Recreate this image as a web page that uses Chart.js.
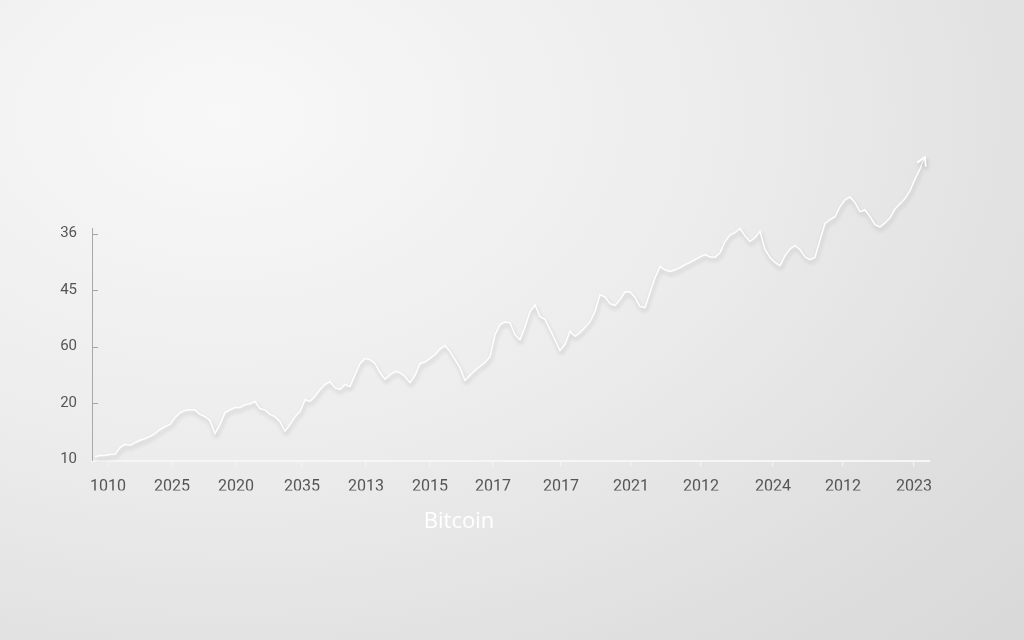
<!DOCTYPE html>
<html>
<head>
<meta charset="utf-8">
<script src="https://cdn.jsdelivr.net/npm/chart.js@4/dist/chart.umd.min.js"></script>
<style>
  html, body { margin: 0; padding: 0; width: 1024px; height: 640px; overflow: hidden; }
  body { background: radial-gradient(ellipse 110% 120% at 22% 18%, #f8f8f8 0%, #ececec 45%, #dedede 80%, #d8d8d8 100%); }
  #wrap { position: absolute; left: 0; top: 0; width: 1024px; height: 640px; }
</style>
</head>
<body>
<div id="wrap"><canvas id="c" width="1024" height="640"></canvas></div>
<script>
// ---- data ----
const chartTitle = 'Bitcoin';
const xLabels = ['1010', '2025', '2020', '2035', '2013', '2015', '2017', '2017', '2021', '2012', '2024', '2012', '2023'];
// where each x label sits, in sample-index units
const xLabelAt = [2.6, 15.4, 28.2, 41.4, 54.2, 67, 79.6, 93.2, 107.2, 121.2, 135.6, 149.6, 163.8];
const yLabels = ['10', '20', '60', '45', '36'];   // bottom to top, one per level step
const yLevels = [0, 1, 2, 3, 4];
// price level per sample (in y-tick steps)
const bitcoinLevel = [
  0.05, 0.07, 0.07, 0.09, 0.09, 0.21, 0.27, 0.25, 0.30, 0.34,
  0.37, 0.41, 0.46, 0.53, 0.58, 0.62, 0.74, 0.83, 0.87, 0.88,
  0.88, 0.80, 0.76, 0.69, 0.46, 0.62, 0.83, 0.88, 0.92, 0.92,
  0.97, 0.99, 1.03, 0.90, 0.88, 0.80, 0.76, 0.67, 0.50, 0.62,
  0.76, 0.85, 1.06, 1.03, 1.12, 1.24, 1.33, 1.38, 1.27, 1.24,
  1.33, 1.29, 1.50, 1.70, 1.79, 1.77, 1.70, 1.54, 1.42, 1.50,
  1.56, 1.54, 1.47, 1.36, 1.49, 1.70, 1.73, 1.79, 1.86, 1.96,
  2.02, 1.91, 1.77, 1.63, 1.40, 1.49, 1.58, 1.65, 1.72, 1.82,
  2.21, 2.39, 2.44, 2.42, 2.21, 2.12, 2.35, 2.62, 2.74, 2.53,
  2.48, 2.30, 2.12, 1.93, 2.04, 2.27, 2.18, 2.25, 2.34, 2.44,
  2.62, 2.92, 2.88, 2.76, 2.73, 2.83, 2.97, 2.97, 2.87, 2.71,
  2.69, 2.96, 3.22, 3.42, 3.36, 3.33, 3.36, 3.40, 3.45, 3.49,
  3.54, 3.59, 3.63, 3.59, 3.58, 3.66, 3.86, 3.98, 4.02, 4.09,
  3.96, 3.86, 3.93, 4.04, 3.72, 3.58, 3.49, 3.43, 3.61, 3.73,
  3.79, 3.72, 3.59, 3.54, 3.58, 3.89, 4.18, 4.25, 4.30, 4.48,
  4.60, 4.65, 4.55, 4.39, 4.42, 4.30, 4.16, 4.12, 4.19, 4.28,
  4.44, 4.53, 4.62, 4.76, 4.97, 5.15, 5.36
];

const lastIndex = bitcoinLevel.length - 1;

const lineShadow = {
  id: 'lineShadow',
  beforeDatasetDraw(chart) {
    const ctx = chart.ctx;
    ctx.save();
    ctx.shadowColor = 'rgba(0,0,0,0.20)';
    ctx.shadowBlur = 4;
    ctx.shadowOffsetX = 1;
    ctx.shadowOffsetY = 3;
  },
  afterDatasetDraw(chart) {
    // arrow head at the end of the line, placed from the line's own elements
    const ctx = chart.ctx;
    const pts = chart.getDatasetMeta(0).data;
    const a = pts[lastIndex - 2], b = pts[lastIndex];
    const ang = Math.atan2(b.y - a.y, b.x - a.x);
    const len = 9, spread = 0.5;
    ctx.strokeStyle = '#ffffff';
    ctx.lineWidth = 1.8;
    ctx.lineCap = 'round';
    ctx.lineJoin = 'round';
    ctx.beginPath();
    ctx.moveTo(b.x - len * Math.cos(ang - spread), b.y - len * Math.sin(ang - spread));
    ctx.lineTo(b.x, b.y);
    ctx.lineTo(b.x - len * Math.cos(ang + spread), b.y - len * Math.sin(ang + spread));
    ctx.stroke();
    ctx.restore();
  }
};

const innerYTicks = {
  id: 'innerYTicks',
  afterDraw(chart) {
    const s = chart.scales.y, ctx = chart.ctx;
    ctx.save();
    ctx.strokeStyle = '#a4a4a4';
    ctx.lineWidth = 1;
    yLevels.slice(1).forEach(v => {
      const y = Math.round(s.getPixelForValue(v)) + 0.5;
      ctx.beginPath();
      ctx.moveTo(s.right, y);
      ctx.lineTo(s.right + 6, y);
      ctx.stroke();
    });
    ctx.restore();
  }
};

// centre the title a little left of the full-width box, as in the reference
const titleShift = {
  id: 'titleShift',
  afterLayout(chart) {
    const t = chart.titleBlock;
    if (t) { t.right -= 12; t.width -= 12; }
  }
};

new Chart(document.getElementById('c'), {
  type: 'line',
  data: {
    datasets: [{
      label: chartTitle,
      data: bitcoinLevel.map((v, i) => ({ x: i, y: v })),
      borderColor: '#ffffff',
      borderWidth: 1.4,
      tension: 0,
      clip: false,
      pointRadius: 0
    }]
  },
  options: {
    animation: false,
    responsive: false,
    events: [],
    layout: { padding: { top: 228, right: 94, left: 0, bottom: 100 } },
    plugins: {
      legend: { display: false },
      tooltip: { enabled: false },
      title: {
        display: true,
        position: 'bottom',
        text: chartTitle,
        color: '#ffffff',
        font: { family: 'Open Sans', size: 22, weight: '400' },
        padding: { top: 18, bottom: 5 }
      }
    },
    scales: {
      x: {
        type: 'linear',
        min: -0.6,
        max: 167,
        afterBuildTicks: s => { s.ticks = xLabelAt.map(v => ({ value: v })); },
        afterFit: s => { s.height = 30; },
        ticks: {
          autoSkip: false,
          maxRotation: 0,
          padding: 11,
          color: '#555555',
          font: { family: 'Roboto', size: 16 },
          callback: (v, i) => xLabels[i]
        },
        grid: { drawOnChartArea: false, drawTicks: true, tickLength: 6, color: '#f3f3f3', lineWidth: 1.2 },
        border: { display: true, color: '#f6f6f6', width: 2 }
      },
      y: {
        type: 'linear',
        min: -0.02,
        max: 4.1,
        afterBuildTicks: s => { s.ticks = yLevels.map(v => ({ value: v })); },
        afterFit: s => { s.width = 92; },
        ticks: {
          padding: 15,
          color: '#555555',
          font: { family: 'Roboto', size: 15 },
          callback: (v, i) => yLabels[i]
        },
        grid: { display: false, drawTicks: false },
        border: { display: true, color: '#a8a8a8', width: 1 }
      }
    }
  },
  plugins: [lineShadow, innerYTicks, titleShift]
});
</script>
</body>
</html>
